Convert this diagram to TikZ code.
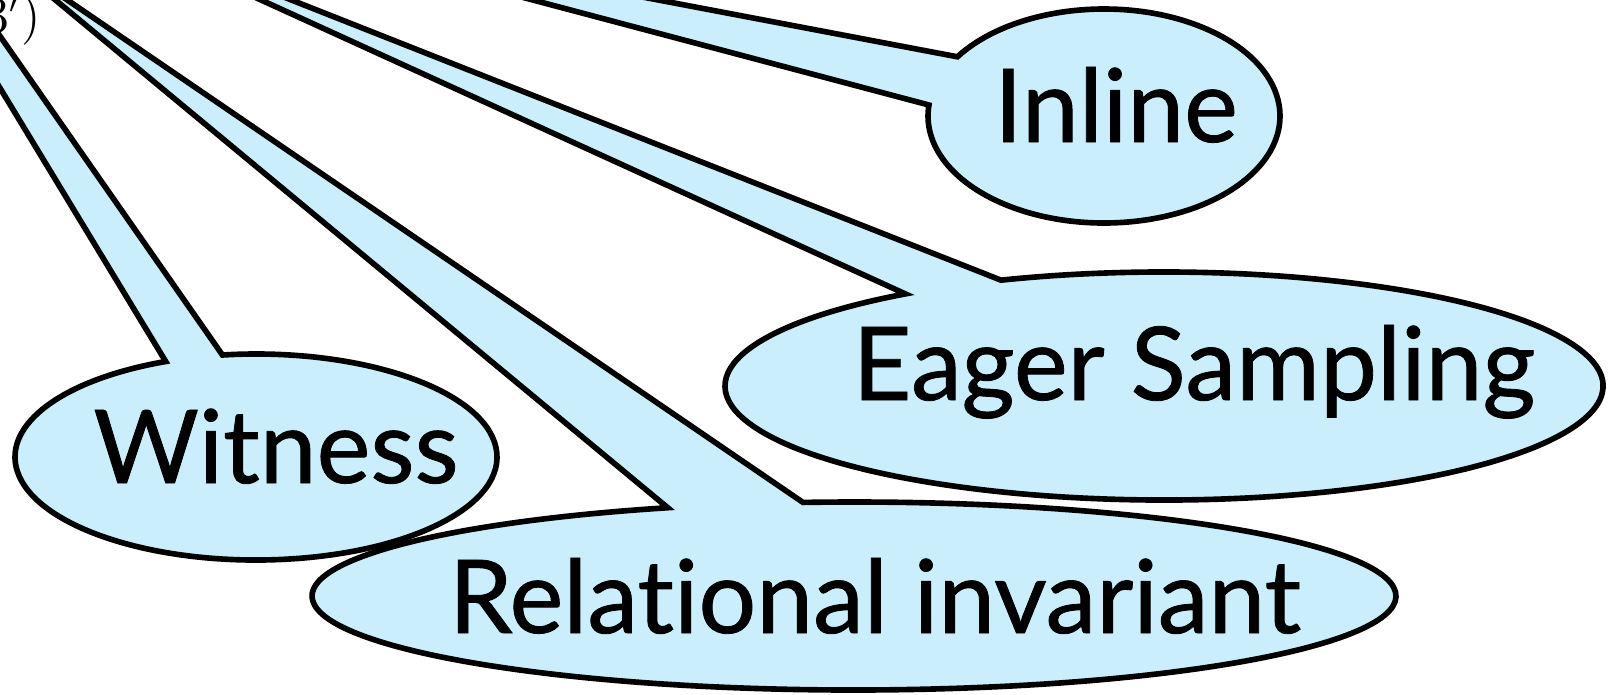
\documentclass[tikz,border=0pt]{standalone}
\usepackage{fontspec}
\newfontfamily\wordfont[Ligatures=NoCommon,FakeBold=0.8]{Lato}
\usetikzlibrary{calc}
\definecolor{bubblefill}{RGB}{203,238,253}
\tikzset{
  bubble/.style={fill=bubblefill,draw=black,line width=1.6pt},
  word/.style={inner sep=0pt,anchor=base,font=\wordfont\fontsize{29}{34}\selectfont}
}
\begin{document}
\begin{tikzpicture}[x=0.1mm,y=0.1mm]
\useasboundingbox (0,0) rectangle (1612,-694);
% where the tails point to
\coordinate (tipInline) at (216,84);
\coordinate (tipEager) at (66,89);
\coordinate (tipWitness) at (-240,308);
\coordinate (tipRel) at (0,46);
% centres of the bubbles
\coordinate (cInline) at (1104,-116);
\coordinate (cEager) at (1164,-386);
\coordinate (cWitness) at (256,-457);
\coordinate (cRel) at (854,-596);
% the bubbles
\draw[bubble] (tipRel) -- ($(cRel)+(95.4:54.2mm and 9.4mm)$)
  arc[start angle=95.4,end angle=-249.9,x radius=54.2mm,y radius=9.4mm] -- cycle;
\draw[bubble] (tipWitness) -- ($(cWitness)+(98:24.1mm and 10.3mm)$)
  arc[start angle=98,end angle=-248,x radius=24.1mm,y radius=10.3mm] -- cycle;
\draw[bubble] (tipEager) -- ($(cEager)+(111.8:43.9mm and 11.4mm)$)
  arc[start angle=111.8,end angle=-233.9,x radius=43.9mm,y radius=11.4mm] -- cycle;
\draw[bubble] (tipInline) -- ($(cInline)+(146.4:17.6mm and 10.7mm)$)
  arc[start angle=146.4,end angle=-185.9,x radius=17.6mm,y radius=10.7mm] -- cycle;
% texts
\node[word] (inline) at (1116,-142) {Inline};
\node[word] (eager) at (1194,-400) {Eager Sampling};
\node[word] (witness) at (276,-483) {Witness};
\node[word] (relational) at (875,-633) {Relational invariant};
\node[inner sep=0pt,anchor=base east,font=\fontsize{14}{17}\selectfont] (cut) at (41,-32) {$3')$};
\end{tikzpicture}
\end{document}
